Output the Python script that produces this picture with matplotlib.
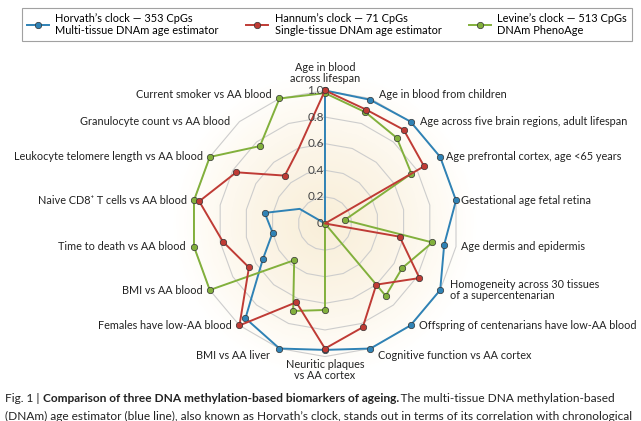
import numpy as np
import matplotlib
matplotlib.use("Agg")
import matplotlib.pyplot as plt
from matplotlib.lines import Line2D
from matplotlib.colors import LinearSegmentedColormap

plt.rcParams["font.family"] = ["Lato", "DejaVu Sans"]

# categories clockwise from the top
categories = [
    "Age in blood\nacross lifespan",
    "Age in blood from children",
    "Age across five brain regions, adult lifespan",
    "Age prefrontal cortex, age <65 years",
    "Gestational age fetal retina",
    "Age dermis and epidermis",
    "Homogeneity across 30 tissues\nof a supercentenarian",
    "Offspring of centenarians have low-AA blood",
    "Cognitive function vs AA cortex",
    "Neuritic plaques\nvs AA cortex",
    "BMI vs AA liver",
    "Females have low-AA blood",
    "BMI vs AA blood",
    "Time to death vs AA blood",
    "Naive CD8\u207a T cells vs AA blood",
    "Leukocyte telomere length vs AA blood",
    "Granulocyte count vs AA blood",
    "Current smoker vs AA blood",
]

horvath = [1.0, 0.99, 1.0, 1.0, 1.0, 0.91, 1.0, 1.0, 1.0, 0.95, 1.0, 0.93, 0.54, 0.40, 0.46, 0.22, 0.0, 0.0]
hannum = [1.0, 0.91, 0.92, 0.86, 0.0, 0.57, 0.82, 0.60, 0.83, 0.94, 0.63, 1.0, 0.66, 0.78, 0.96, 0.77, 0.47, 0.59]
levine = [0.98, 0.89, 0.84, 0.75, 0.15, 0.82, 0.67, 0.71, 0.0, 0.65, 0.70, 0.36, 1.0, 1.0, 1.0, 1.0, 0.76, 1.0]

legend_labels = [
    "Horvath\u2019s clock \u2014 353 CpGs\nMulti-tissue DNAm age estimator",
    "Hannum\u2019s clock \u2014 71 CpGs\nSingle-tissue DNAm age estimator",
    "Levine\u2019s clock \u2014 513 CpGs\nDNAm PhenoAge",
]
ring_ticks = [0.2, 0.4, 0.6, 0.8, 1.0]
ring_labels = ["0", "0.2", "0.4", "0.6", "0.8", "1.0"]

blue, red, green = "#2f82b5", "#bf3b35", "#82b03c"

fig = plt.figure(figsize=(6.41, 4.21), dpi=100)
ax = fig.add_axes([0.2683, 0.1057, 0.4774, 0.7268], projection="polar")
ax.set_theta_zero_location("N")
ax.set_theta_direction(-1)
ax.set_ylim(0, 1.15)
ax.set_facecolor("none")
ax.spines["polar"].set_visible(False)
ax.grid(False)
ax.set_xticks([])
ax.set_yticks([])

n = len(categories)
theta = np.deg2rad(np.arange(n) * 360.0 / n)
theta_c = np.append(theta, theta[0])

# soft cream background
tt, rr = np.meshgrid(np.linspace(0, 2 * np.pi, 120), np.linspace(0, 1.15, 60))
cmap = LinearSegmentedColormap.from_list(
    "bg", [(0, "#f8eed8"), (0.45, "#fbf4e6"), (0.8, "#fefbf5"), (1, "#ffffff")])
ax.pcolormesh(tt, rr, rr, cmap=cmap, shading="auto", zorder=0)

for r in ring_ticks:
    ax.plot(theta_c, [r] * (n + 1), color="#cdcdcd", lw=0.8, zorder=1)

def draw(vals, color, skip, z):
    v = list(vals) + [vals[0]]
    keep = [i for i in range(n) if i not in skip]
    ax.plot(theta_c, v, color=color, lw=1.4, marker="o", ms=4.6,
            mfc=color, mec="#333333", mew=0.5, markevery=keep,
            zorder=z, clip_on=False)

draw(horvath, blue, [15, 16, 17], 3)
draw(levine, green, [], 4)
draw(hannum, red, [4, 17], 5)

# radial tick labels along the top spoke
for r, lab in zip([0] + ring_ticks, ring_labels):
    ax.annotate(lab, (0, r), xytext=(-1, 0), textcoords="offset pixels",
                ha="right", va="center", fontsize=8.5, color="#444444", zorder=6)

offsets = [(0, 6), (9, 4), (9, 0), (6, 0), (5, 0), (5, 0), (10, 0), (8, 0), (8, -7),
           (0, -2), (-9, -7), (-8, 0), (-7, 0), (-8, 0), (-7, 0), (-7, 0), (-9, 0), (-8, 4)]
for i, lab in enumerate(categories):
    dx, dy = offsets[i]
    if i == 0:
        ha, va = "center", "bottom"
    elif i == 9:
        ha, va = "center", "top"
    elif i < 9:
        ha, va = "left", "center"
    else:
        ha, va = "right", "center"
    ax.annotate(lab, (theta[i], 1.0), xytext=(dx, dy), textcoords="offset pixels",
                ha=ha, va=va, fontsize=7.8, color="#222222", linespacing=1.05,
                annotation_clip=False)

handles = [Line2D([], [], color=c, lw=1.4, marker="o", ms=4.6, mfc=c, mec="#333333", mew=0.5)
           for c in (blue, red, green)]
leg = fig.legend(handles, legend_labels, loc="upper center", bbox_to_anchor=(0.51, 0.995),
                 ncol=3, fontsize=7.9, frameon=True, fancybox=False, edgecolor="#8a8a8a",
                 handlelength=2.0, columnspacing=2.5, handletextpad=0.6, borderpad=0.45)
leg.get_frame().set_linewidth(0.8)

# caption with bold run
fig.canvas.draw()
renderer = fig.canvas.get_renderer()

def runs(x, y, parts, size=8.6):
    for txt, wt in parts:
        t = fig.text(x, y, txt, fontsize=size, fontweight=wt, color="#222222", va="center")
        bb = t.get_window_extent(renderer)
        x = bb.x1 / fig.bbox.width

runs(0.008, 1 - 398 / 421, [("Fig. 1 | ", "normal"),
                             ("Comparison of three DNA methylation-based biomarkers of ageing.", "bold"),
                             ("\u2009The multi-tissue DNA methylation-based", "normal")])
# second caption line is cut by the bottom edge, as in the source
runs(0.008, 1 - 416 / 421, [("(DNAm) age estimator (blue line), also known as Horvath\u2019s clock, stands out in terms of its correlation with chronological", "normal")])

fig.savefig("out.png", dpi=100)
